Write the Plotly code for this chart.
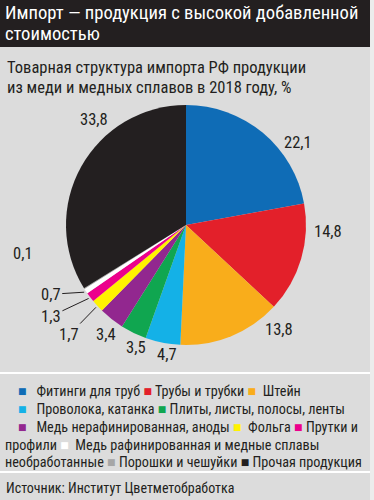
import math
import plotly.graph_objects as go

# ---------------- data ----------------
categories = [
    "Фитинги для труб",
    "Трубы и трубки",
    "Штейн",
    "Проволока, катанка",
    "Плиты, листы, полосы, ленты",
    "Медь нерафинированная, аноды",
    "Фольга",
    "Прутки и профили",
    "Медь рафинированная и медные сплавы необработанные",
    "Порошки и чешуйки",
    "Прочая продукция",
]
values = [22.1, 14.8, 13.8, 4.7, 3.5, 3.4, 1.7, 1.3, 0.7, 0.1, 33.8]
colors = ["#0f6cb6", "#e3202a", "#f9ad1b", "#14b1e7", "#10a650", "#92278f",
          "#fff200", "#ec008c", "#ffffff", "#a6a6a6", "#231f20"]

title_lines = ["Импорт — продукция с высокой добавленной", "стоимостью"]
subtitle_lines = ["Товарная структура импорта РФ продукции",
                  "из меди и медных сплавов в 2018 году, %"]
source_text = "Источник: Институт Цветметобработка"

# ---------------- layout constants ----------------
W, H = 374, 500
CX, CY, R = 186, 225, 120
FONT = "Roboto Condensed, Roboto, Liberation Sans, sans-serif"
BG = "#dcdcdc"
INK = "#231f20"

# label placement (angle nudge in degrees, label radius in px, leader line?)
label_adj = [(14, 139, False), (-13.6, 142, False), (-19.7, 140, False),
             (-3, 131, False), (-3.7, 132, False), (-2.3, 135, False),
             (-0.8, 160, True), (3.0, 163, True), (6.3, 152, True),
             (22, 165, False), (20, 140, False)]


def px(x):
    return x / W


def py(y):
    return 1 - y / H


fig = go.Figure()
fig.add_trace(go.Pie(
    labels=categories, values=values, sort=False, direction="clockwise",
    rotation=0, marker=dict(colors=colors, line=dict(width=0)),
    textinfo="none", hoverinfo="label+value", showlegend=False,
    domain=dict(x=[px(CX - R), px(CX + R)], y=[py(CY + R), py(CY - R)]),
))

annotations = []
total = sum(values)
cum = 0.0
for v, (dang, rl, line) in zip(values, label_adj):
    mid = (cum + v / 2) / total * 360.0
    cum += v
    text = f"{v:.1f}".replace(".", ",")
    a = math.radians(mid + dang)
    tx = CX + rl * math.sin(a)
    ty = CY - rl * math.cos(a)
    if line:
        m = math.radians(mid)
        axp = CX + (R + 2) * math.sin(m)
        ayp = CY - (R + 2) * math.cos(m)
        annotations.append(dict(
            x=px(axp), y=py(ayp), xref="paper", yref="paper", text=text,
            showarrow=True, arrowhead=0, arrowwidth=1, arrowcolor=INK,
            ax=tx - axp, ay=ty - ayp, standoff=0,
            font=dict(family=FONT, size=16.5, color=INK)))
    else:
        annotations.append(dict(
            x=px(tx), y=py(ty), xref="paper", yref="paper", text=text,
            showarrow=False, xanchor="center", yanchor="middle",
            font=dict(family=FONT, size=16.5, color=INK)))

# title & subtitle
for txt, y in zip(title_lines, [13, 34]):
    annotations.append(dict(x=px(3), y=py(y), xref="paper", yref="paper",
                            text=txt, showarrow=False, xanchor="left",
                            yanchor="middle",
                            font=dict(family=FONT, size=18.6, color="#ffffff")))
for txt, y in zip(subtitle_lines, [67, 88]):
    annotations.append(dict(x=px(5), y=py(y), xref="paper", yref="paper",
                            text=txt, showarrow=False, xanchor="left",
                            yanchor="middle",
                            font=dict(family=FONT, size=16.5, color=INK)))


def sq(c):
    return f"<span style='color:{c}'>■</span>"


NB = "\u00a0"
legend_lines = [
    (f"{NB*4}{sq(colors[0])}{NB*3}{categories[0]} {sq(colors[1])} {categories[1]} {sq(colors[2])}{NB*2}{categories[2]}", 391),
    (f"{NB*4}{sq(colors[3])}{NB*3}{categories[3]} {sq(colors[4])} {categories[4]}", 409),
    (f"{NB*4}{sq(colors[5])}{NB*3}{categories[5]} {sq(colors[6])}{NB*2}{categories[6]} {sq(colors[7])} Прутки и", 427),
    (f"профили {sq(colors[8])}{NB*2}Медь рафинированная и медные сплавы", 445),
    (f"необработанные {sq(colors[9])} {categories[9]} {sq(colors[10])} {categories[10]}", 462),
]
for txt, y in legend_lines:
    annotations.append(dict(x=px(3), y=py(y), xref="paper", yref="paper",
                            text=txt, showarrow=False, xanchor="left",
                            yanchor="middle",
                            font=dict(family=FONT, size=14.2, color=INK)))

annotations.append(dict(x=px(4), y=py(488), xref="paper", yref="paper",
                        text=source_text, showarrow=False, xanchor="left",
                        yanchor="middle",
                        font=dict(family=FONT, size=14, color=INK)))

shapes = [
    dict(type="rect", xref="paper", yref="paper", x0=0, x1=px(370),
         y0=py(47), y1=1, fillcolor=INK, line=dict(width=0), layer="below"),
    dict(type="rect", xref="paper", yref="paper", x0=px(370), x1=1,
         y0=0, y1=1, fillcolor="#ececec", line=dict(width=0), layer="below"),
    dict(type="line", xref="paper", yref="paper", x0=0, x1=px(370),
         y0=py(373), y1=py(373), line=dict(color="#ffffff", width=2)),
    dict(type="line", xref="paper", yref="paper", x0=0, x1=px(370),
         y0=py(472), y1=py(472), line=dict(color="#ffffff", width=2)),
]

fig.update_layout(
    width=W, height=H, margin=dict(l=0, r=0, t=0, b=0),
    paper_bgcolor=BG, plot_bgcolor=BG,
    annotations=annotations, shapes=shapes,
    font=dict(family=FONT),
)

fig.write_html(
    "out.html",
    config={"displayModeBar": False},
    post_script="document.body.style.margin='0px';document.body.style.overflow='hidden';",
)
